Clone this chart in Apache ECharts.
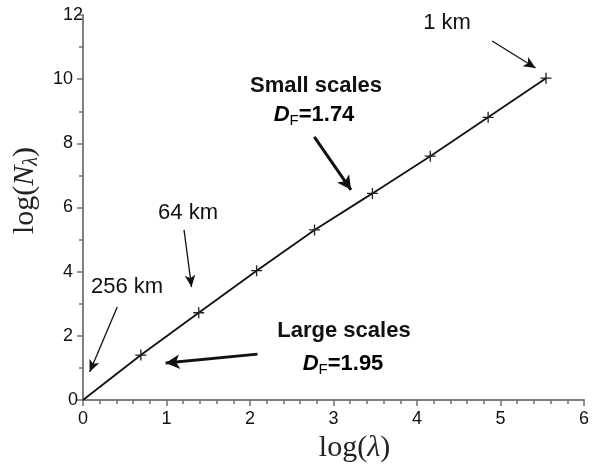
<!DOCTYPE html>
<html>
<head>
<meta charset="utf-8">
<script src="https://cdn.jsdelivr.net/npm/echarts@6/dist/echarts.min.js"></script>
<style>
  html, body { margin: 0; padding: 0; background: #fff; }
  #chart { width: 592px; height: 469px; }
</style>
</head>
<body>
<div id="chart"></div>
<script>
// log(lambda) for lambda = 1, 2, 4 ... 256 (relative to 256 km)
const logLambda = [0, 0.693, 1.386, 2.079, 2.773, 3.466, 4.159, 4.852, 5.545]
const logN = [0, 1.40, 2.72, 4.03, 5.30, 6.44, 7.60, 8.81, 10.03]
const xTicks = [0, 1, 2, 3, 4, 5, 6]
const yTicks = [0, 2, 4, 6, 8, 10, 12]

// arrows in data coordinates: [from, to, width]
const arrows = [
  [[4.90, 11.19], [5.42, 10.35], 1.3],
  [[2.77, 8.20], [3.21, 6.55], 3],
  [[1.21, 5.30], [1.30, 3.52], 1.3],
  [[0.41, 2.90], [0.08, 0.87], 1.3],
  [[2.09, 1.43], [0.99, 1.15], 3]
]

const plusPath = 'path://M4.4,0h1.2v4.4h4.4v1.2h-4.4v4.4h-1.2v-4.4h-4.4v-1.2h4.4z'
const labelFont = 'Liberation Sans, Arial, sans-serif'
const serif = 'Liberation Serif, Times New Roman, serif'

const chart = echarts.init(document.getElementById('chart'))

const dfRich = {
  d: { fontFamily: labelFont, fontSize: 22, fontWeight: 'bold', fontStyle: 'italic', color: '#111' },
  f: { fontFamily: labelFont, fontSize: 15, color: '#111', padding: [12, 0, 0, 0] },
  v: { fontFamily: labelFont, fontSize: 22, fontWeight: 'bold', color: '#111' }
}

function note(text, x, y, bold) {
  return {
    type: 'text', x: x, y: y,
    style: {
      text: text, fill: '#111', align: 'center', verticalAlign: 'middle',
      font: (bold ? 'bold ' : '') + '22px ' + labelFont
    }
  }
}

function dfNote(val, x, y) {
  return {
    type: 'text', x: x, y: y,
    style: {
      text: '{d|D}{f|F}{v|=' + val + '}', align: 'center', verticalAlign: 'middle',
      rich: dfRich
    }
  }
}

const option = {
  animation: false,
  backgroundColor: '#fff',
  grid: { left: 83, right: 2, top: 15, bottom: 69, containLabel: false },
  xAxis: {
    type: 'value', min: 0, max: 6, interval: 1,
    name: '{t|log(}{i|λ}{t|)}',
    nameLocation: 'middle', nameGap: 30,
    nameTextStyle: {
      padding: [0, 0, 0, 42],
      rich: {
        t: { fontFamily: serif, fontSize: 30, color: '#222' },
        i: { fontFamily: serif, fontSize: 30, fontStyle: 'italic', color: '#222' }
      }
    },
    axisLine: { lineStyle: { color: '#808080', width: 2 } },
    axisTick: { show: true, length: 6, lineStyle: { color: '#707070', width: 1.5 } },
    minorTick: { show: true, splitNumber: 5, length: 4, lineStyle: { color: '#707070', width: 1.5 } },
    splitLine: { show: false },
    axisLabel: {
      margin: 10, color: '#111', fontSize: 18, fontFamily: labelFont,
      alignMaxLabel: 'center', alignMinLabel: 'center',
      formatter: v => xTicks.includes(v) ? String(v) : ''
    }
  },
  yAxis: {
    type: 'value', min: 0, max: 12, interval: 2,
    name: '{t|log(}{i|N}{s|λ}{t|)}',
    nameLocation: 'middle', nameGap: 40, nameRotate: 90,
    nameTextStyle: {
      padding: [0, 0, 0, 34],
      rich: {
        t: { fontFamily: serif, fontSize: 30, color: '#222' },
        i: { fontFamily: serif, fontSize: 30, fontStyle: 'italic', color: '#222' },
        s: { fontFamily: serif, fontSize: 20, fontStyle: 'italic', color: '#222', padding: [14, 0, 0, 0] }
      }
    },
    axisLine: { show: true, lineStyle: { color: '#808080', width: 2 } },
    axisTick: { show: true, length: 6, lineStyle: { color: '#707070', width: 1.5 } },
    minorTick: { show: true, splitNumber: 2, length: 4, lineStyle: { color: '#707070', width: 1.5 } },
    splitLine: { show: false },
    axisLabel: {
      margin: 10, color: '#111', fontSize: 18, fontFamily: labelFont,
      alignMaxLabel: 'center', alignMinLabel: 'center',
      formatter: v => yTicks.includes(v) ? String(v) : ''
    }
  },
  series: [
    {
      type: 'line',
      data: logLambda.map((x, i) => ({
        value: [x, logN[i]],
        symbol: i === 0 ? 'none' : plusPath
      })),
      symbolSize: 11,
      showSymbol: true,
      lineStyle: { color: '#111', width: 1.8 },
      itemStyle: { color: '#222' },
      z: 3
    },
    {
      type: 'line',
      data: [],
      markLine: {
        silent: true,
        animation: false,
        label: { show: false },
        emphasis: { disabled: true },
        data: arrows.map(a => [
          { coord: a[0], symbol: 'none', lineStyle: { color: '#111', width: a[2], type: 'solid' } },
          { coord: a[1], symbol: 'arrow', symbolSize: a[2] > 2 ? [11, 14] : [8, 12] }
        ])
      }
    }
  ],
  graphic: [
    note('1 km', 447, 23, false),
    note('Small scales', 316, 86, true),
    dfNote('1.74', 314, 115),
    note('64 km', 188, 213, false),
    note('256 km', 127, 287, false),
    note('Large scales', 344, 331, true),
    dfNote('1.95', 343, 364)
  ]
}

chart.setOption(option)
</script>
</body>
</html>
